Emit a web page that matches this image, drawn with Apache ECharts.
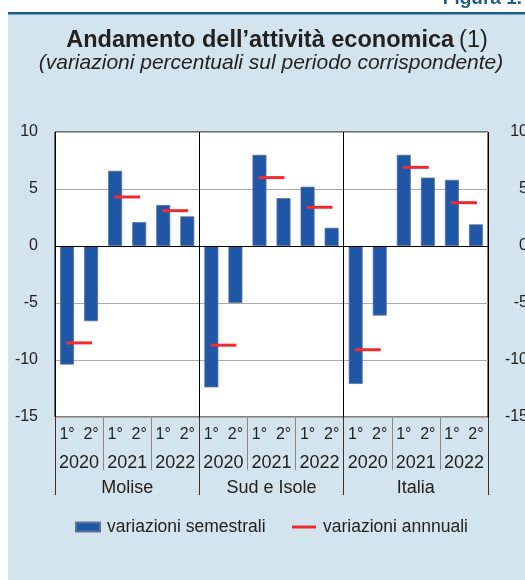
<!DOCTYPE html>
<html>
<head>
<meta charset="utf-8">
<script src="https://cdn.jsdelivr.net/npm/echarts@6/dist/echarts.min.js"></script>
<style>
  html, body { margin: 0; padding: 0; background: #fff; }
  #chart { width: 525px; height: 580px; }
</style>
</head>
<body>
<div id="chart"></div>
<script>
// categorie
const halves = ["1°", "2°", "1°", "2°", "1°", "2°", "1°", "2°", "1°", "2°", "1°", "2°", "1°", "2°", "1°", "2°", "1°", "2°"];
const years = ["2020", "2021", "2022", "2020", "2021", "2022", "2020", "2021", "2022"];
const regions = ["Molise", "Sud e Isole", "Italia"];

// variazioni semestrali (Molise, Sud e Isole, Italia)
const semestrali = [
  -10.4, -6.6, 6.6, 2.1, 3.6, 2.6,
  -12.4, -5.0, 8.0, 4.2, 5.2, 1.6,
  -12.1, -6.1, 8.0, 6.0, 5.8, 1.9
];
// variazioni annuali
const annuali = [
  -8.5, 4.3, 3.1,
  -8.7, 6.0, 3.4,
  -9.1, 6.9, 3.8
];

const chart = echarts.init(document.getElementById("chart"));
const font = "Liberation Sans, Arial, sans-serif";

chart.setOption({
  animation: false,
  backgroundColor: "#fff",
  textStyle: { fontFamily: font },
  graphic: [
    { type: "rect", left: 8, top: 14, shape: { width: 517, height: 566 }, style: { fill: "#d3e4ee" }, z: -10 },
    { type: "rect", left: 8, top: 12, shape: { width: 517, height: 2.5 }, style: { fill: "#1d5f87" }, z: -9 },
    {
      type: "text", right: 3, top: -11,
      style: { text: "Figura 1.", font: "bold 19px " + font, fill: "#1d5f87" }
    }
  ],
  title: [
    {
      text: "{b|Andamento dell’attività economica} {n|(1)}",
      left: 272, top: 24, textAlign: "center",
      textStyle: {
        rich: {
          b: { fontSize: 23.5, fontWeight: "bold", color: "#222", fontFamily: font },
          n: { fontSize: 23.5, fontWeight: "normal", color: "#222", fontFamily: font }
        }
      }
    },
    {
      text: "(variazioni percentuali sul periodo corrispondente)",
      left: 266, top: 48, textAlign: "center",
      textStyle: { fontSize: 21, fontStyle: "italic", fontWeight: "normal", color: "#222", fontFamily: font }
    }
  ],
  legend: [
    {
      data: ["variazioni semestrali"],
      left: 70, top: 513,
      icon: "rect",
      itemWidth: 24, itemHeight: 9,
      textStyle: { fontSize: 17.5, color: "#222", fontFamily: font, padding: [0, 0, 0, 2] }
    },
    {
      data: ["variazioni annnuali"],
      left: 287, top: 513,
      icon: "rect",
      itemWidth: 24, itemHeight: 3,
      textStyle: { fontSize: 17.5, color: "#222", fontFamily: font, padding: [0, 0, 0, 2] }
    }
  ],
  grid: {
    left: 55, right: 37, top: 132, bottom: 163,
    outerBoundsMode: "none",
    show: true, backgroundColor: "#fff", borderColor: "#000", borderWidth: 1
  },
  xAxis: [
    {
      type: "category", data: halves, position: "bottom",
      axisLine: { show: false, onZero: false },
      axisTick: { show: false },
      axisLabel: { interval: 0, margin: 10, fontSize: 16, color: "#222" }
    },
    {
      type: "category", data: years, position: "bottom",
      axisLine: { show: false, onZero: false },
      axisTick: { show: true, length: 53, lineStyle: { color: "#888" } },
      axisLabel: { interval: 0, margin: 37, fontSize: 18, color: "#222" }
    },
    {
      type: "category", data: regions, position: "bottom",
      axisLine: { show: false, onZero: false },
      axisTick: { show: true, length: 78, lineStyle: { color: "#333" } },
      axisLabel: { interval: 0, margin: 62, fontSize: 18, color: "#222" },
      splitLine: { show: true, lineStyle: { color: "#000", width: 1 } }
    }
  ],
  yAxis: [
    {
      type: "value", min: -15, max: 10, interval: 5, position: "left",
      axisLine: { show: false }, axisTick: { show: false },
      axisLabel: { margin: 17, fontSize: 16, color: "#222" },
      splitLine: { show: true, lineStyle: { color: "#aaa" } }
    },
    {
      type: "value", min: -15, max: 10, interval: 5, position: "right",
      axisLine: { show: false }, axisTick: { show: false },
      axisLabel: { margin: 40, align: "right", fontSize: 16, color: "#222" },
      splitLine: { show: false }
    }
  ],
  series: [
    {
      name: "variazioni semestrali", type: "bar",
      xAxisIndex: 0, yAxisIndex: 0,
      data: semestrali, barWidth: 14,
      itemStyle: { color: "#1f56a6", borderColor: "#5f7394", borderWidth: 0.8 },
      markLine: {
        silent: true, symbol: "none", label: { show: false },
        lineStyle: { color: "#000", type: "solid", width: 1 },
        data: [{ yAxis: 0 }]
      },
      z: 2
    },
    {
      name: "variazioni annnuali", type: "scatter",
      xAxisIndex: 1, yAxisIndex: 0,
      data: annuali, symbol: "rect", symbolSize: [26, 3],
      itemStyle: { color: "#ee2b2f", opacity: 1 },
      z: 5
    }
  ]
});
</script>
</body>
</html>
